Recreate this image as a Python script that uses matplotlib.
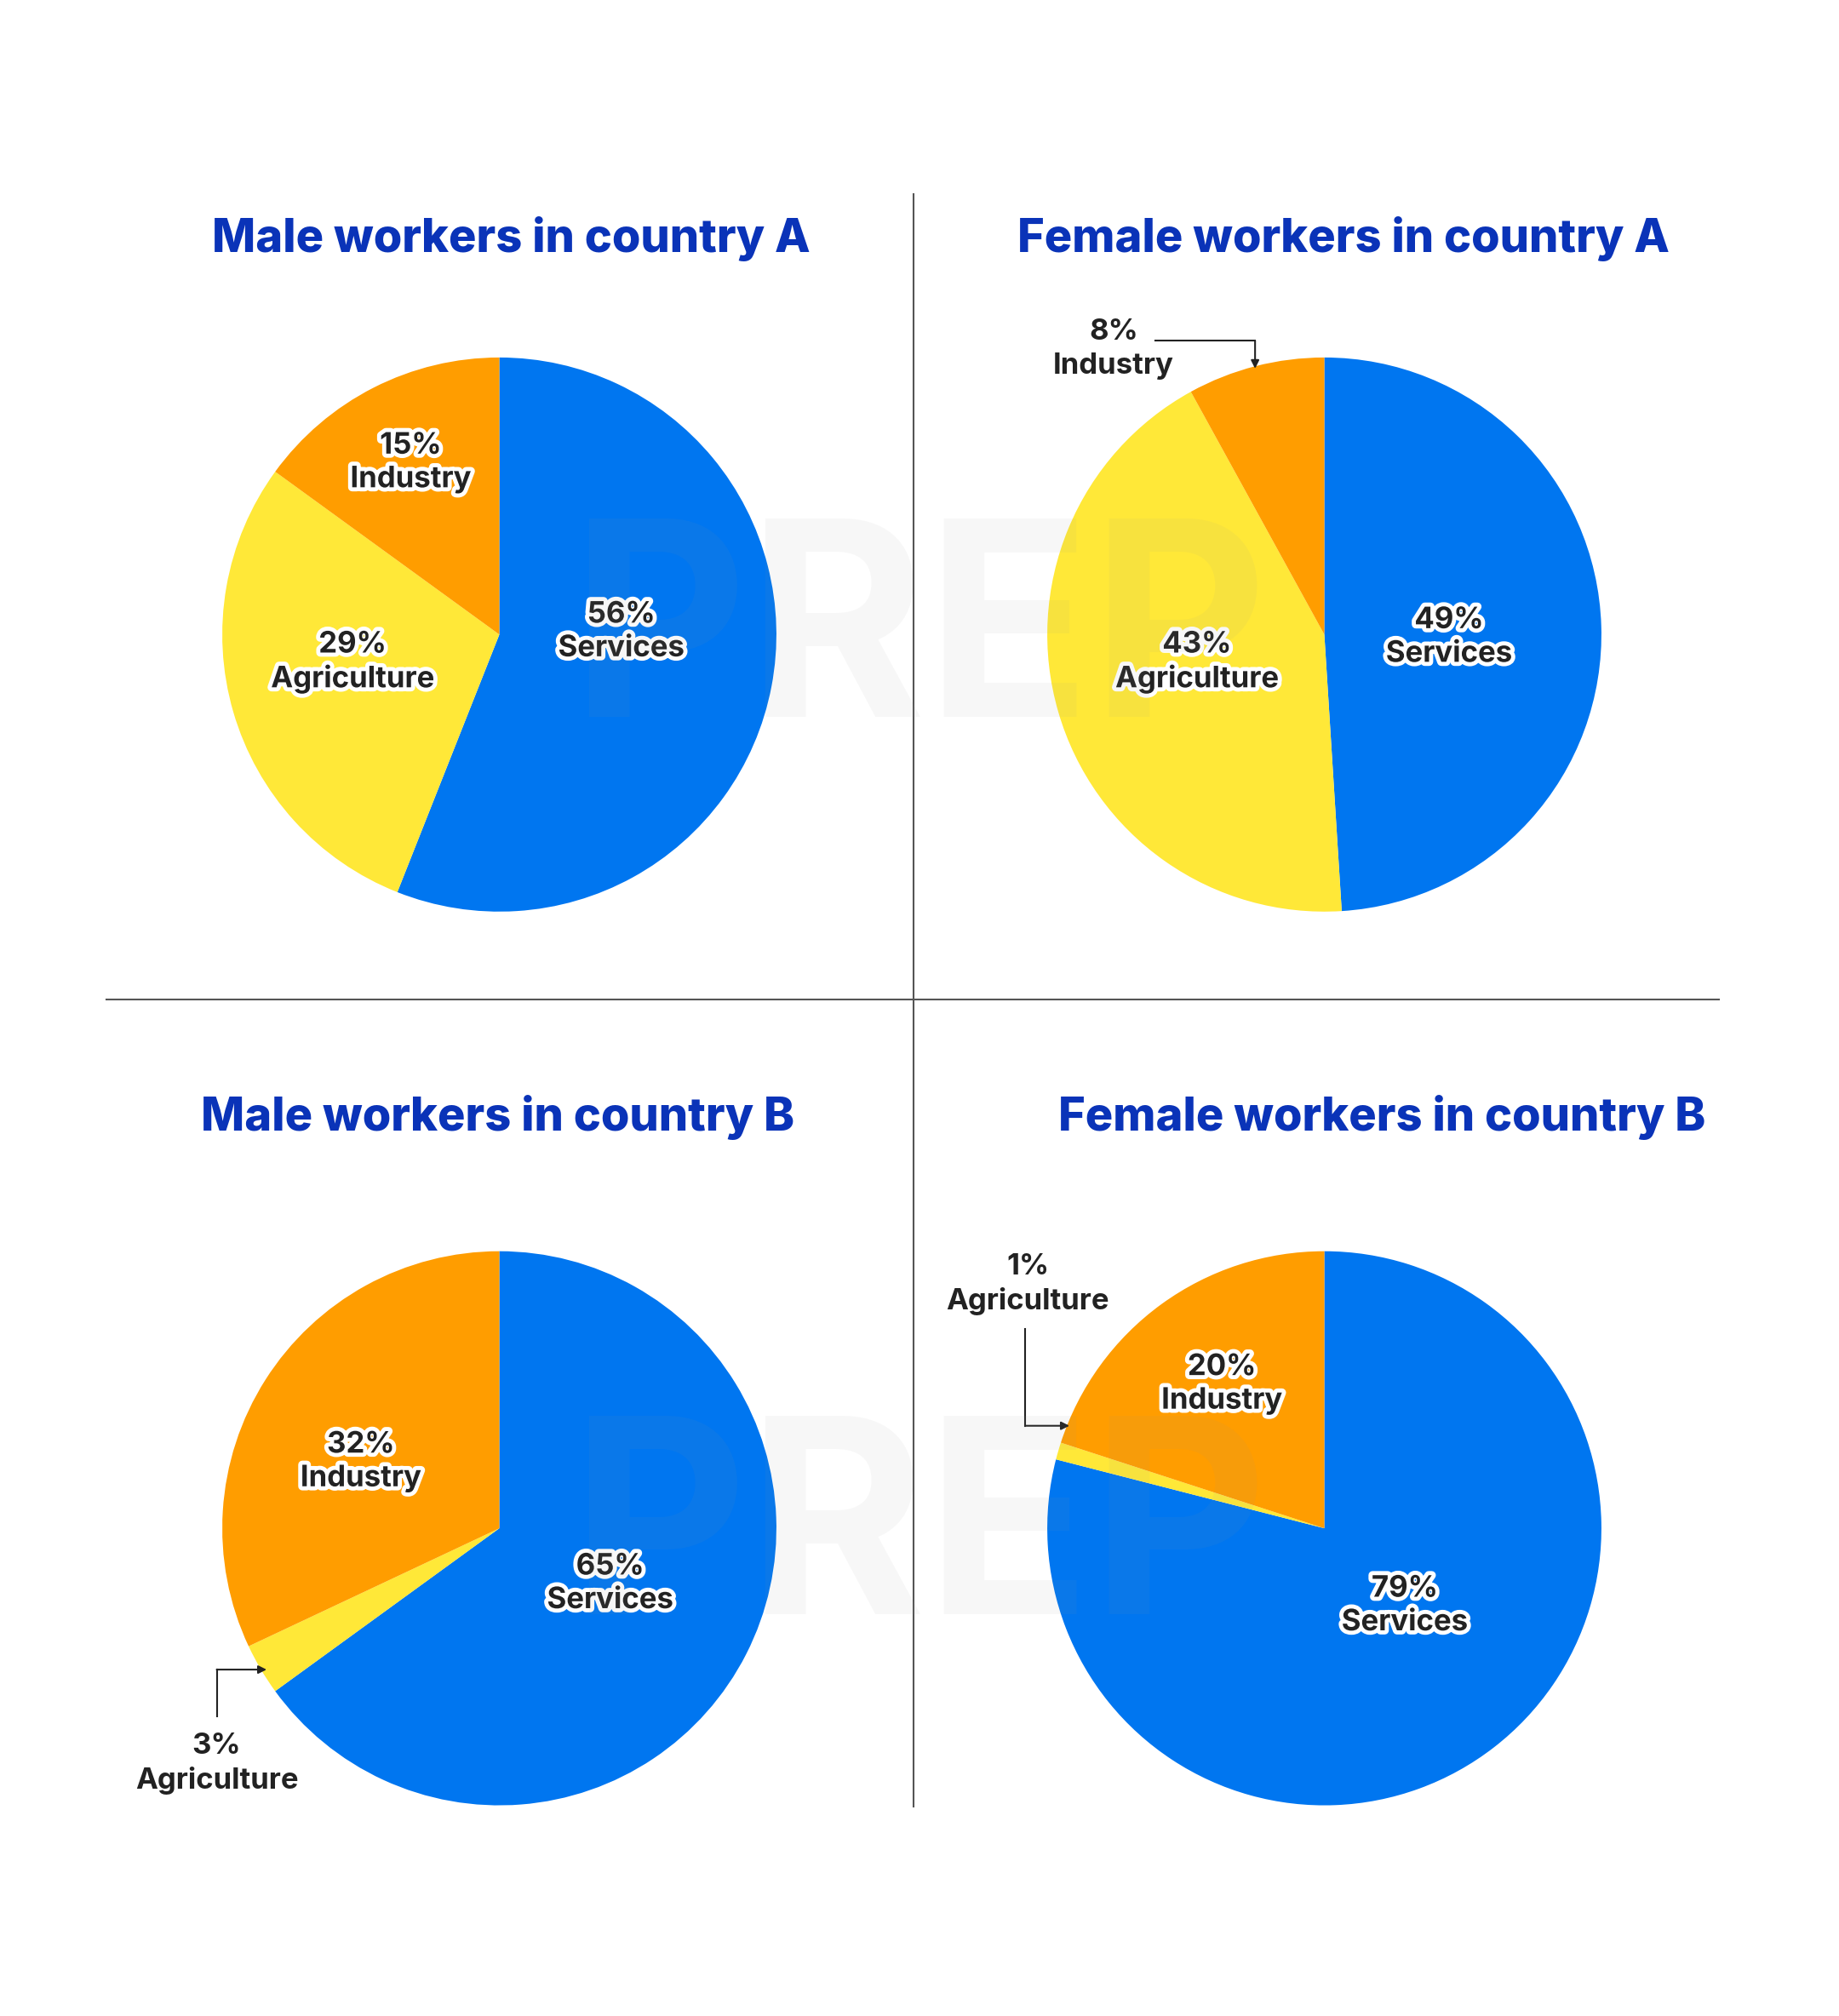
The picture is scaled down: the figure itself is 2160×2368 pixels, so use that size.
import matplotlib
matplotlib.use("Agg")
import matplotlib.pyplot as plt
import matplotlib.patheffects as pe

plt.rcParams['font.family'] = ['Inter', 'DejaVu Sans']

categories = ["Services", "Agriculture", "Industry"]
titles = ["Male workers in country A", "Female workers in country A",
          "Male workers in country B", "Female workers in country B"]
male_a = [56, 29, 15]
female_a = [49, 43, 8]
male_b = [65, 3, 32]
female_b = [79, 1, 20]
all_values = [male_a, female_a, male_b, female_b]

colors = ["#0076f0", "#ffe838", "#ff9d00"]
title_color = "#0a33b8"

W, H = 1440, 1579
R = 217
centers = [(391, 497), (1037, 497), (391, 1197), (1037, 1197)]
title_pos = [(400, 187), (1052, 187), (390, 875), (1082, 875)]

# label positions inside each pie (pie radius units), None -> outside label
label_pos = [
    [(0.44, 0.01), (-0.53, -0.10), (-0.32, 0.62)],
    [(0.45, -0.01), (-0.46, -0.10), None],
    [(0.40, -0.20), None, (-0.50, 0.24)],
    [(0.29, -0.28), None, (-0.37, 0.52)],
]
# outside labels: (chart, category index, text pos, elbow path)
outside = [
    (1, 2, (-0.76, 1.03), [(-0.61, 1.06), (-0.25, 1.06), (-0.25, 0.96)]),
    (2, 1, (-1.02, -0.85), [(-1.02, -0.68), (-1.02, -0.51), (-0.84, -0.51)]),
    (3, 1, (-1.07, 0.88), [(-1.08, 0.72), (-1.08, 0.37), (-0.92, 0.37)]),
]

fig = plt.figure(figsize=(21.6, 23.68), dpi=100)

# divider lines
fig.add_artist(plt.Line2D([715 / W, 715 / W], [1 - 152 / H, 1 - 1415 / H], color="#555555", lw=1.5))
fig.add_artist(plt.Line2D([83 / W, 1346 / W], [1 - 783 / H, 1 - 783 / H], color="#555555", lw=1.5))

stroke = [pe.withStroke(linewidth=7, foreground="white")]

axes = []
for i, vals in enumerate(all_values):
    cx, cy = centers[i]
    ax = fig.add_axes([(cx - R) / W, 1 - (cy + R) / H, 2 * R / W, 2 * R / H])
    ax.pie(vals, colors=colors, startangle=90, counterclock=False, radius=1,
           wedgeprops=dict(linewidth=0))
    ax.set_xlim(-1, 1)
    ax.set_ylim(-1, 1)
    ax.set_aspect("equal")
    ax.axis("off")
    for j, pos in enumerate(label_pos[i]):
        if pos is None:
            continue
        ax.text(pos[0], pos[1], f"{vals[j]}%\n{categories[j]}", ha="center", va="center",
                fontsize=25, fontweight="bold", color="#222222", linespacing=1.3,
                path_effects=stroke, zorder=5)
    tx, ty = title_pos[i]
    fig.text(tx / W, 1 - ty / H, titles[i], ha="center", va="center",
             fontsize=39, fontweight="heavy", color=title_color)
    axes.append(ax)

for i, j, pos, path in outside:
    ax = axes[i]
    ax.text(pos[0], pos[1], f"{all_values[i][j]}%\n{categories[j]}", ha="center", va="center",
            fontsize=25, fontweight="bold", color="#222222", linespacing=1.3)
    xs = [p[0] for p in path[:-1]]
    ys = [p[1] for p in path[:-1]]
    ax.plot(xs, ys, color="#222222", lw=1.5, clip_on=False)
    ax.annotate("", xy=path[-1], xytext=path[-2],
                arrowprops=dict(arrowstyle="-|>", color="#222222", lw=1.5,
                                mutation_scale=14, shrinkA=0, shrinkB=0),
                annotation_clip=False)

# faint watermark
for y in (0.68, 0.235):
    fig.text(0.50, y, "PREP", ha="center", va="center", fontsize=230,
             fontweight="bold", color="#999999", alpha=0.07, zorder=10)

fig.savefig("out.png", dpi=100, facecolor="white")
